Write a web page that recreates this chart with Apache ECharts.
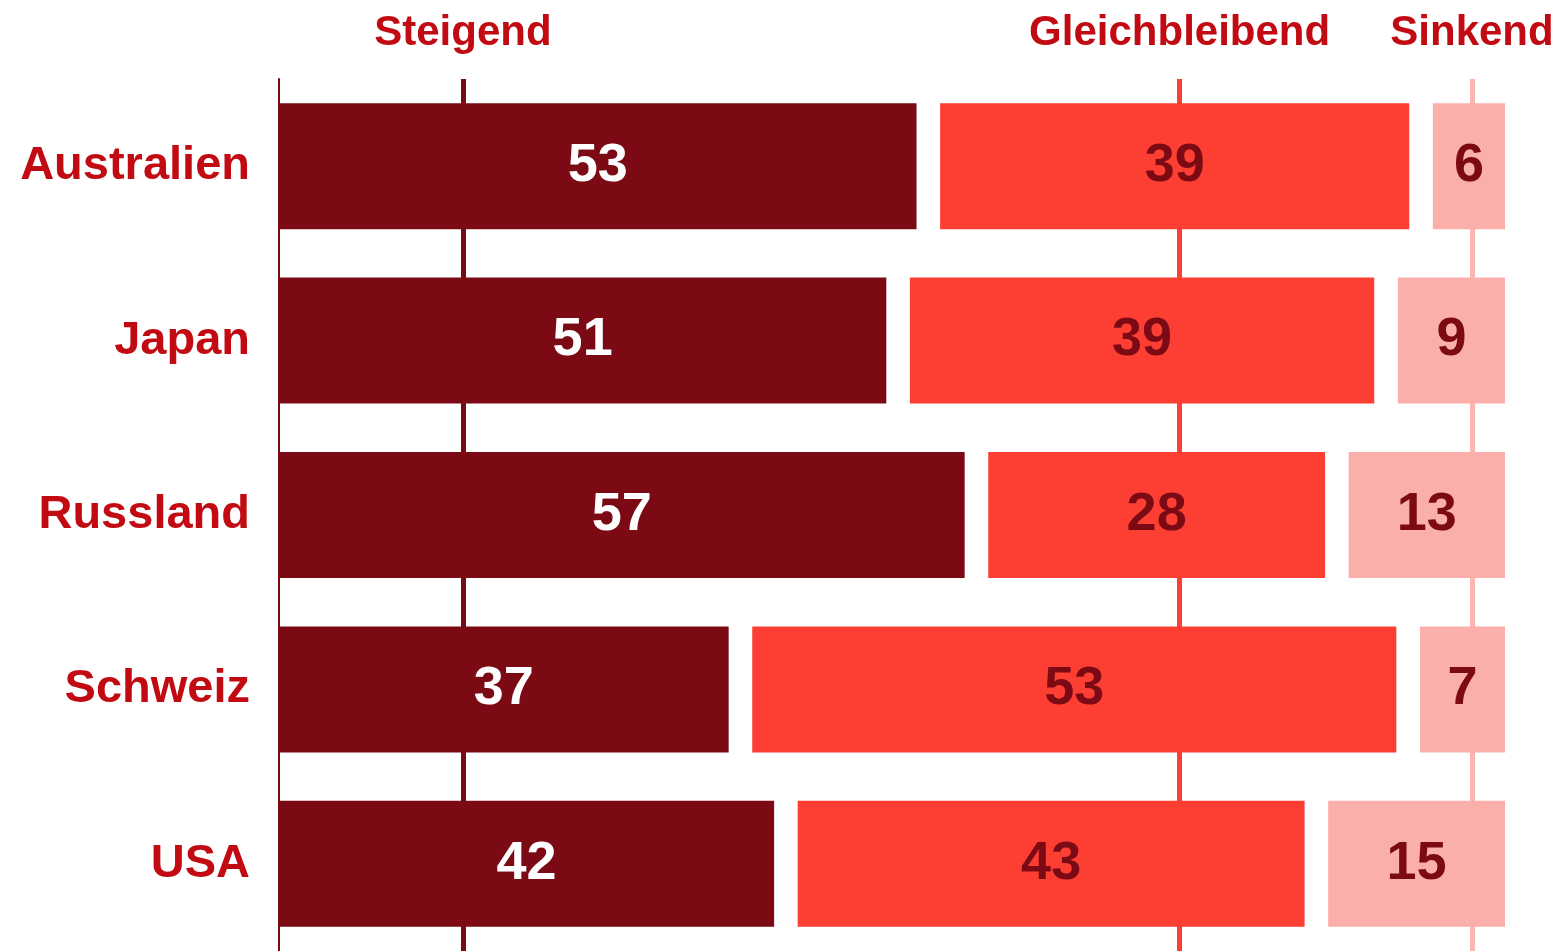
<!DOCTYPE html>
<html>
<head>
<meta charset="utf-8">
<script src="https://cdn.jsdelivr.net/npm/echarts@6/dist/echarts.min.js"></script>
<style>
  html, body { margin: 0; padding: 0; background: #fff; }
  #container { width: 1561px; height: 951px; }
</style>
</head>
<body>
<div id="container"></div>
<script>
var categories = ['Australien', 'Japan', 'Russland', 'Schweiz', 'USA'];
var seriesNames = ['Steigend', 'Gleichbleibend', 'Sinkend'];
var steigend = [53, 51, 57, 37, 42];
var gleichbleibend = [39, 39, 28, 53, 43];
var sinkend = [6, 9, 13, 7, 15];
// where the three column marker lines sit (in % units of the axis)
var markerPos = [15.6, 76.4, 101.2];

var colors = ['#7b0a15', '#fd3f33', '#faafaa'];
var lineColors = ['#7b0a15', '#fd3f33', '#fbb6b1'];
var gap = 2;

var raw = [steigend, gleichbleibend, sinkend];
var totals = categories.map(function (c, i) {
    return steigend[i] + gleichbleibend[i] + sinkend[i];
});

var dom = document.getElementById('container');
var myChart = echarts.init(dom);
var font = "'Liberation Sans', Arial, sans-serif";

var series = [];
for (var s = 0; s < 3; s++) {
    (function (s) {
        series.push({
            name: seriesNames[s],
            type: 'bar',
            stack: 'total',
            barWidth: 126,
            data: raw[s].map(function (v, i) { return v / totals[i] * 100; }),
            itemStyle: { color: colors[s] },
            label: {
                show: true,
                position: 'inside',
                fontFamily: font,
                fontWeight: 'bold',
                fontSize: 54,
                color: s === 0 ? '#ffffff' : '#7b0a15',
                formatter: function (p) { return raw[s][p.dataIndex]; }
            },
            markLine: {
                z: 1,
                silent: true,
                symbol: ['none', 'none'],
                lineStyle: { color: lineColors[s], width: 5, type: 'solid' },
                label: { show: false },
                data: [{ xAxis: markerPos[s] }]
            }
        });
        if (s < 2) {
            series.push({
                name: 'gap' + s,
                type: 'bar',
                stack: 'total',
                barWidth: 126,
                silent: true,
                data: categories.map(function () { return gap; }),
                itemStyle: { color: 'rgba(0,0,0,0)' },
                label: { show: false }
            });
        }
    })(s);
}

var option = {
    animation: false,
    grid: { left: 279, right: 56, top: 79, bottom: -8, containLabel: false },
    xAxis: [
        {
            type: 'value',
            min: 0,
            max: 100 + 2 * gap,
            show: false
        },
        {
            // column headers above the marker lines
            type: 'value',
            position: 'top',
            min: 0,
            max: 100 + 2 * gap,
            axisLine: { show: false },
            axisTick: { show: false },
            splitLine: { show: false },
            axisLabel: {
                customValues: markerPos,
                margin: 25,
                fontFamily: font,
                fontWeight: 'bold',
                fontSize: 42,
                color: '#c20a12',
                formatter: function (v) {
                    var i = markerPos.indexOf(v);
                    return i >= 0 ? seriesNames[i] : '';
                }
            }
        }
    ],
    yAxis: {
        type: 'category',
        inverse: true,
        data: categories,
        axisTick: { show: false },
        axisLine: { show: true, lineStyle: { color: '#7b0a15', width: 2 } },
        axisLabel: {
            margin: 29,
            fontFamily: font,
            fontWeight: 'bold',
            fontSize: 47,
            color: '#c20a12'
        },
        splitLine: { show: false }
    },
    series: series
};

if (option && typeof option === 'object') {
    myChart.setOption(option);
}
</script>
</body>
</html>
